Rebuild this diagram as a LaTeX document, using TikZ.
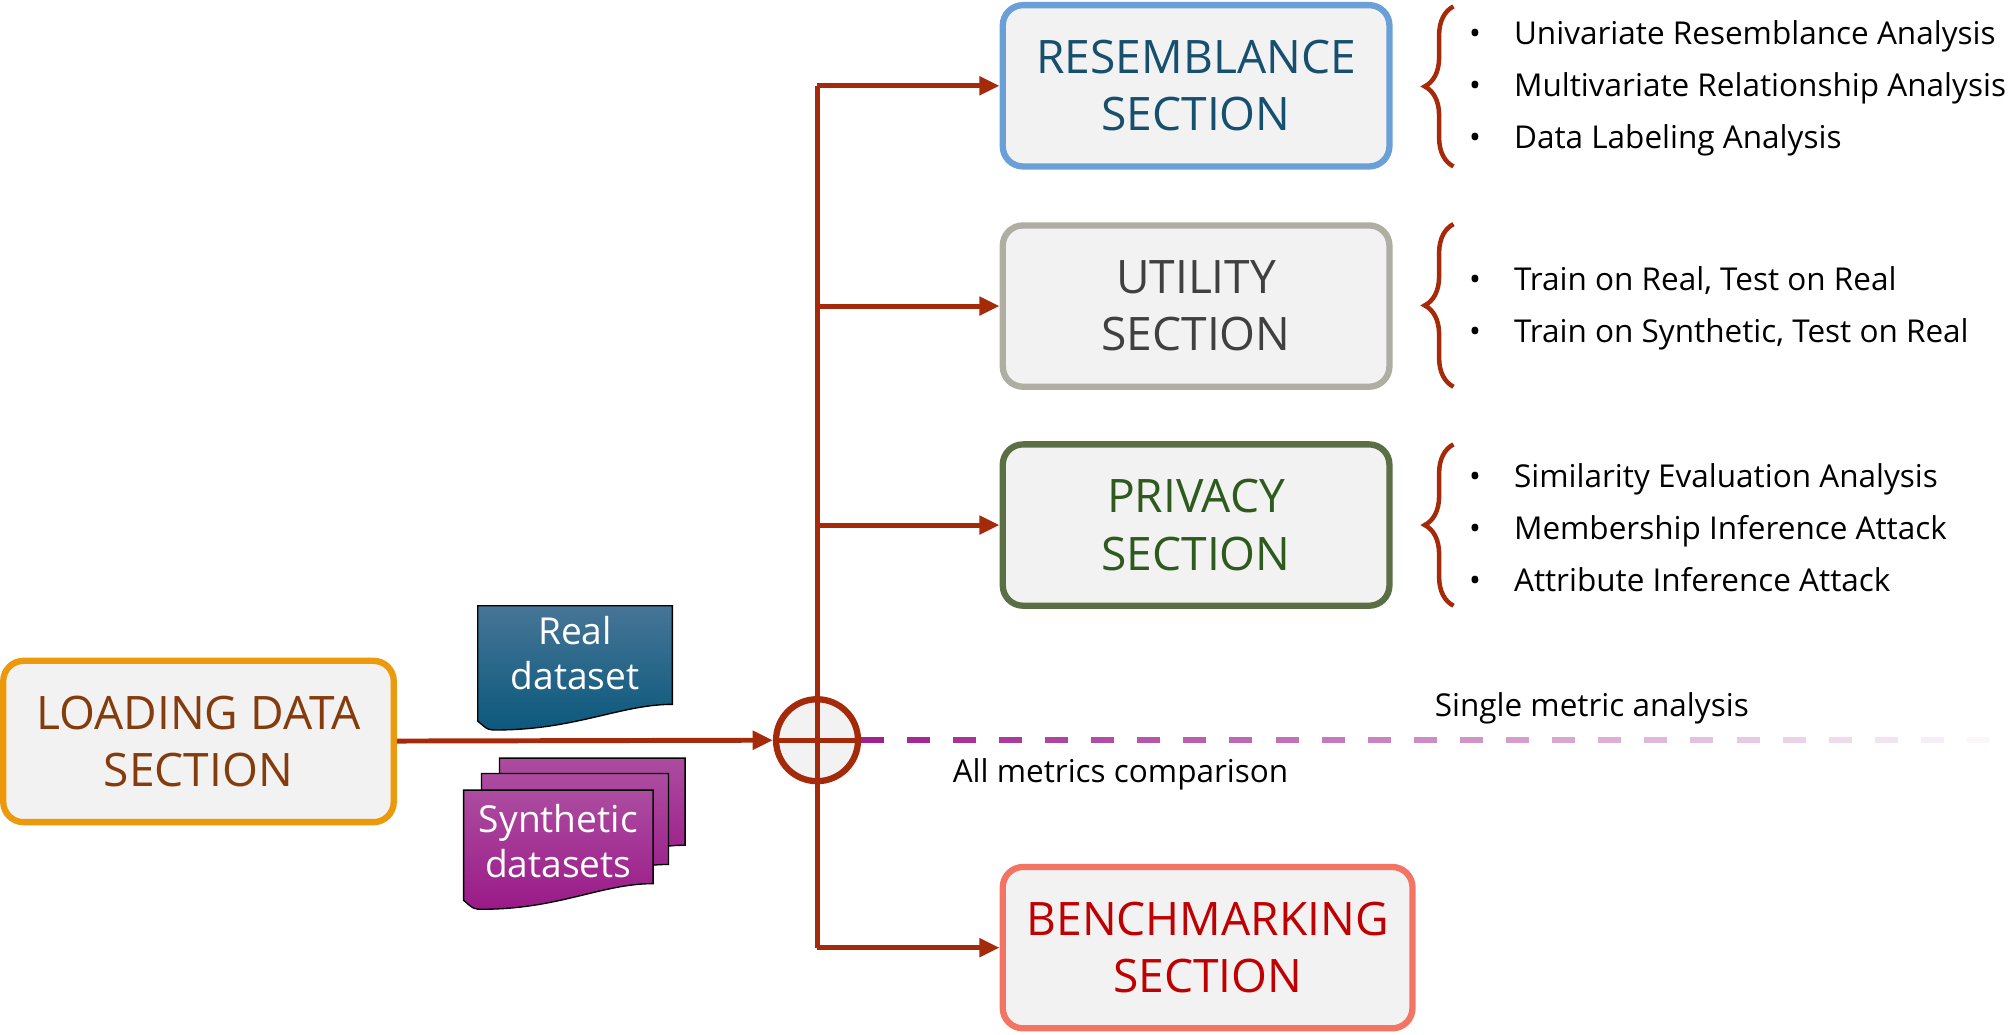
\documentclass[tikz,border=0pt]{standalone}
\usepackage{fontspec}
\setmainfont{Open Sans}
\usetikzlibrary{arrows.meta,decorations.pathreplacing}
\definecolor{flowred}{HTML}{A52A0A}
\definecolor{loadorange}{HTML}{EC9A0C}
\definecolor{loadtext}{HTML}{843C0C}
\definecolor{resblue}{HTML}{6A9FD8}
\definecolor{restext}{HTML}{17506E}
\definecolor{utilgray}{HTML}{AEAEA2}
\definecolor{utiltext}{HTML}{404040}
\definecolor{privgreen}{HTML}{5A7044}
\definecolor{privtext}{HTML}{2E5A1E}
\definecolor{benchred}{HTML}{F47464}
\definecolor{benchtext}{HTML}{C00000}
\definecolor{boxfill}{HTML}{F2F2F2}
\definecolor{realtop}{HTML}{467596}
\definecolor{realbot}{HTML}{0B597D}
\definecolor{syntop}{HTML}{AC4CA0}
\definecolor{synbot}{HTML}{9A1A88}
\definecolor{dashpurple}{HTML}{A0208F}
\newcommand{\boxFont}[0]{\fontsize{20.5}{25.5}\selectfont}
\newcommand{\itemFont}[0]{\fontsize{14}{16}\selectfont}
% document shape: left x, top y, right x, bottom y
\newcommand{\docShape}[5]{%
  \draw[black, line width=0.6pt, top color=#5top, bottom color=#5bot]
    (#1,#2) -- (#3,#2) -- (#3,{#4-15})
    .. controls ({#3-40},{#4-15}) and ({(#1+#3)/2},{#4+5}) .. ({#1+15},{#4+5})
    .. controls ({#1+8},{#4+5}) .. (#1,{#4-2}) -- cycle;}
\tikzset{
  section/.style={draw, line width=2.8pt, rounded corners=9pt, fill=boxfill,
    align=center, font=\boxFont, minimum height=2.52cm},
  flow/.style={flowred, line width=2.2pt},
  flowarrow/.style={flow, -{Triangle[length=9pt,width=8pt]}},
  items/.style={align=left, anchor=west, font=\itemFont},
  bracestyle/.style={flowred, line width=2pt, decorate,
    decoration={brace, amplitude=0.45cm}}
}
\begin{document}
\begin{tikzpicture}[x=0.02cm, y=-0.02cm]
  \useasboundingbox (0,0) rectangle (1568,808);
  % sections
  \node[section, draw=loadorange, text=loadtext, minimum width=6.1cm] (load) at (155,579) {LOADING DATA\\SECTION};
  \node[section, draw=resblue, text=restext, minimum width=6.04cm] (res) at (934,67) {RESEMBLANCE\\SECTION};
  \node[section, draw=utilgray, text=utiltext, minimum width=6.04cm] (util) at (934,239) {UTILITY\\SECTION};
  \node[section, draw=privgreen, text=privtext, minimum width=6.04cm] (priv) at (934,410) {PRIVACY\\SECTION};
  \node[section, draw=benchred, text=benchtext, minimum width=6.4cm] (bench) at (943,740) {BENCHMARKING\\SECTION};
  % datasets
  \docShape{373}{473}{525}{565}{real}
  \node[white, align=center, font=\fontsize{16.5}{20}\selectfont] (realtxt) at (449,510) {Real\\dataset};
  \docShape{390}{592}{535}{675}{syn}
  \docShape{376}{604}{522}{690}{syn}
  \docShape{362}{617}{510}{705}{syn}
  \node[white, align=center, font=\fontsize{16.5}{20}\selectfont] (syntxt) at (436,657) {Synthetic\\datasets};
  % hub
  \node[circle, draw=flowred, line width=2.8pt, fill=boxfill, minimum size=1.28cm, inner sep=0pt] (hub) at (638,578) {};
  \coordinate (top) at (638,67);
  \coordinate (mid1) at (638,239);
  \coordinate (mid2) at (638,410);
  \coordinate (bot) at (638,740);
  \draw[flow] (top) -- (bot);
  \draw[flow] (hub.west) -- (hub.east);
  \draw[flowarrow] (load) -- (hub.west);
  \draw[flowarrow] (top) -- (res.west);
  \draw[flowarrow] (mid1) -- (util.west);
  \draw[flowarrow] (mid2) -- (priv.west);
  \draw[flowarrow] (bot) -- (bench.west);
  % fading dashes
  \foreach \i in {0,...,24}{
    \pgfmathtruncatemacro{\shade}{100-4*\i}
    \draw[dashpurple!\shade!white, line width=2.6pt] ({672+\i*36},578) -- ({690+\i*36},578);
  }
  \node[font=\itemFont] (single) at (1243,553) {Single metric analysis};
  \node[font=\itemFont] (allm) at (875,605) {All metrics comparison};
  % braces and items
  \draw[bracestyle] (1135,130) -- (1135,5);
  \draw[bracestyle] (1135,302) -- (1135,175);
  \draw[bracestyle] (1135,473) -- (1135,347);
  \node[items] (resitems) at (1141,69) {\textbullet\hspace{1.05em}Univariate Resemblance Analysis\\[7pt]
    \textbullet\hspace{1.05em}Multivariate Relationship Analysis\\[7pt]
    \textbullet\hspace{1.05em}Data Labeling Analysis};
  \node[items] (utilitems) at (1141,241) {\textbullet\hspace{1.05em}Train on Real, Test on Real\\[7pt]
    \textbullet\hspace{1.05em}Train on Synthetic, Test on Real};
  \node[items] (privitems) at (1141,412) {\textbullet\hspace{1.05em}Similarity Evaluation Analysis\\[7pt]
    \textbullet\hspace{1.05em}Membership Inference Attack\\[7pt]
    \textbullet\hspace{1.05em}Attribute Inference Attack};
\end{tikzpicture}
\end{document}
